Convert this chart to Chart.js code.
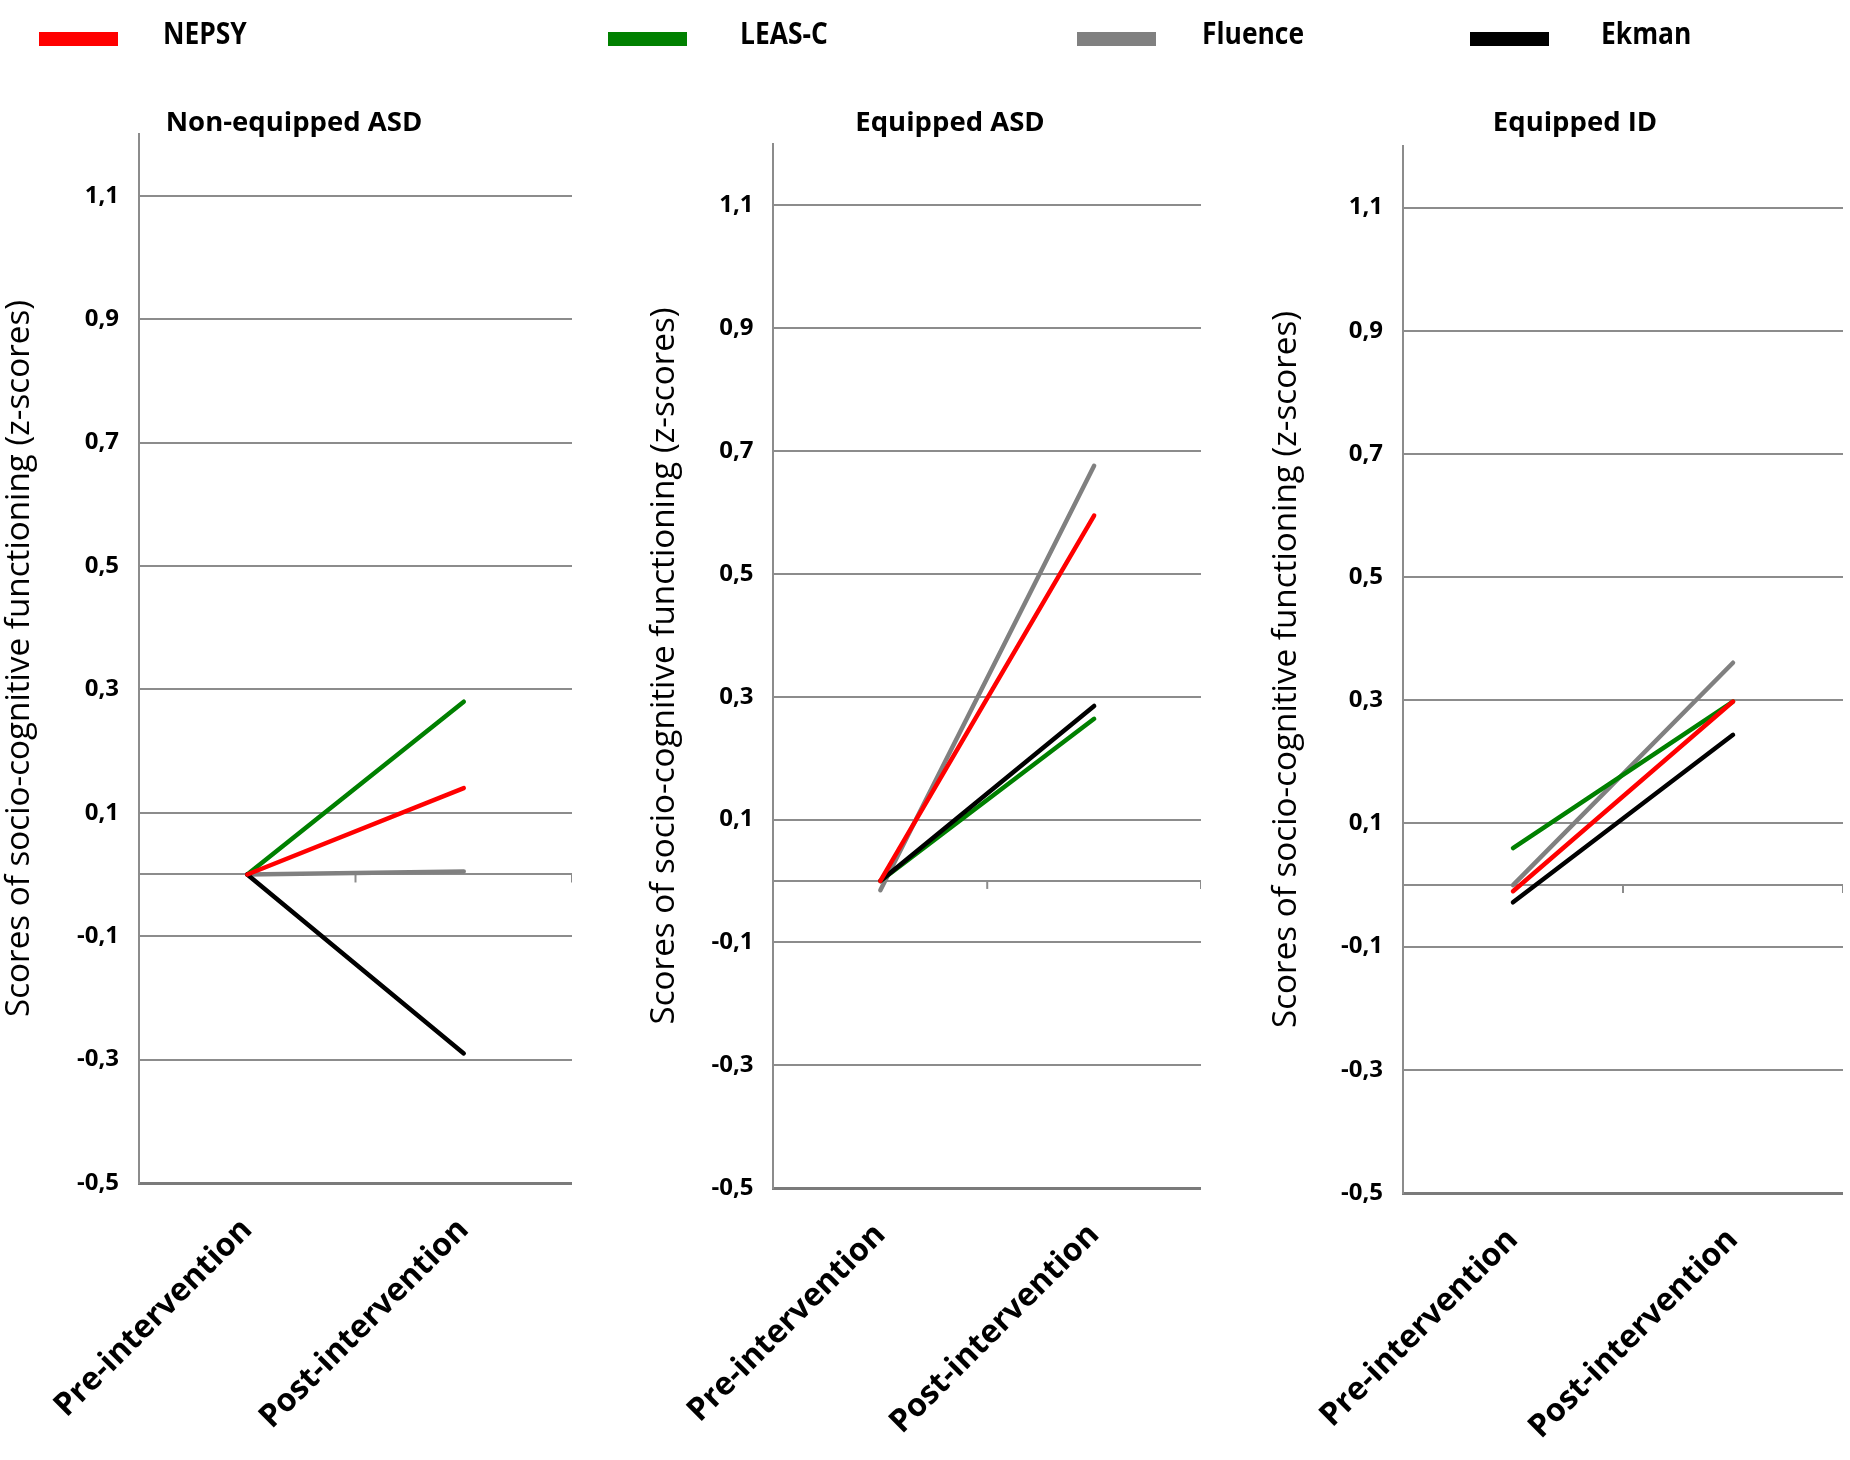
<!DOCTYPE html>
<html lang="en">
  <head>
    <meta charset="UTF-8" />
    <title>Scores of socio-cognitive functioning</title>
    <script src="https://cdn.jsdelivr.net/npm/chart.js"></script>
    <style>
      html, body { margin: 0; padding: 0; background: #fff; width: 1850px; height: 1460px; overflow: hidden; }
      body { font-family: "Open Sans", sans-serif; font-weight: bold; color: #000; }
      .panel { position: absolute; top: 0; height: 1460px; }
      .sw { position: absolute; top: 32px; width: 79px; height: 14px; z-index: 2; }
      .lb { position: absolute; top: 15px; line-height: 36px; font-size: 30px; z-index: 2;
        transform: scaleX(0.88); transform-origin: left center; }
      .ttl { position: absolute; top: 104px; width: 500px; line-height: 34px; font-size: 27.5px;
        text-align: center; z-index: 2; }
    </style>
  </head>
  <body>
    <script>
      // categories and series
      var phases = ["Pre-intervention", "Post-intervention"];
      var groups = ["Non-equipped ASD", "Equipped ASD", "Equipped ID"];
      var seriesNames = ["NEPSY", "LEAS-C", "Fluence", "Ekman"];
      var yTicks = [-0.5, -0.3, -0.1, 0, 0.1, 0.3, 0.5, 0.7, 0.9, 1.1];

      // [pre, post] for each group, same order as groups
      var nepsy = [[0, 0.14], [0, 0.595], [-0.01, 0.298]];
      var leasC = [[0, 0.28], [0, 0.264], [0.06, 0.298]];
      var fluence = [[0, 0.005], [-0.015, 0.676], [0, 0.361]];
      var ekman = [[0, -0.29], [0, 0.285], [-0.028, 0.244]];

      var seriesData = [nepsy, leasC, fluence, ekman];
      var seriesColors = ["#ff0000", "#008000", "#808080", "#000000"];
      var drawOrder = [1, 3, 4, 2];

      // where each panel sits on the page
      var panels = [
        { left: 0, right: 572, axisW: 139, titleX: 294, areaTop: 134, areaBottom: 1183 },
        { left: 641, right: 1201, axisW: 129, titleX: 950, areaTop: 144, areaBottom: 1188 },
        { left: 1267, right: 1843, axisW: 136, titleX: 1575, areaTop: 146, areaBottom: 1193 },
      ];

      // legend
      var legendSw = [39, 608, 1077, 1470];
      var legendLb = [163, 740, 1202, 1601];
      seriesNames.forEach(function (name, i) {
        var sw = document.createElement("div");
        sw.className = "sw";
        sw.style.left = legendSw[i] + "px";
        sw.style.background = seriesColors[i];
        document.body.appendChild(sw);
        var lb = document.createElement("div");
        lb.className = "lb";
        lb.style.left = legendLb[i] + "px";
        lb.textContent = name;
        document.body.appendChild(lb);
      });

      // small tick marks under the zero line, as on the category axis
      var zeroTicks = {
        id: "zeroTicks",
        beforeDatasetsDraw: function (chart) {
          var x = chart.scales.x, y = chart.scales.y, ctx = chart.ctx;
          var y0 = y.getPixelForValue(0);
          var marks = [(x.getPixelForTick(0) + x.getPixelForTick(1)) / 2, chart.chartArea.right];
          ctx.save();
          ctx.strokeStyle = "#8c8c8c";
          ctx.lineWidth = 2;
          marks.forEach(function (m) {
            ctx.beginPath();
            ctx.moveTo(m, y0);
            ctx.lineTo(m, y0 + 8);
            ctx.stroke();
          });
          ctx.restore();
        },
      };

      Chart.defaults.font.family = "'Open Sans', sans-serif";
      Chart.defaults.color = "#000";

      groups.forEach(function (group, g) {
        var p = panels[g];

        var ttl = document.createElement("div");
        ttl.className = "ttl";
        ttl.style.left = p.titleX - 250 + "px";
        ttl.textContent = group;
        document.body.appendChild(ttl);

        var div = document.createElement("div");
        div.className = "panel";
        div.style.left = p.left + "px";
        div.style.width = p.right - p.left + "px";
        var canvas = document.createElement("canvas");
        div.appendChild(canvas);
        document.body.appendChild(div);

        new Chart(canvas.getContext("2d"), {
          type: "line",
          data: {
            labels: phases,
            datasets: seriesNames.map(function (name, i) {
              return {
                label: name,
                data: seriesData[i][g],
                borderColor: seriesColors[i],
                backgroundColor: seriesColors[i],
                borderWidth: 4.5,
                borderCapStyle: "round",
                pointRadius: 0,
                fill: false,
                order: drawOrder[i],
              };
            }),
          },
          plugins: [zeroTicks],
          options: {
            responsive: true,
            maintainAspectRatio: false,
            animation: false,
            layout: { padding: { left: 0, right: 0, top: p.areaTop, bottom: 0 } },
            plugins: {
              legend: { display: false },
              tooltip: { enabled: false },
            },
            scales: {
              x: {
                offset: true,
                grid: { display: false },
                border: { display: true, color: "#7a7a7a", width: 3 },
                ticks: {
                  minRotation: 45,
                  maxRotation: 45,
                  padding: 20,
                  font: { size: 32, weight: "bold" },
                  color: "#000",
                },
                afterFit: function (scale) { scale.height = 1460 - p.areaBottom; },
              },
              y: {
                min: -0.5,
                max: 1.2,
                afterBuildTicks: function (scale) {
                  scale.ticks = yTicks.map(function (v) { return { value: v }; });
                },
                afterFit: function (scale) { scale.width = p.axisW; },
                grid: { color: "#8c8c8c", lineWidth: 2, drawTicks: false },
                border: { display: true, color: "#8c8c8c", width: 2 },
                ticks: {
                  padding: 20,
                  font: { size: 24, weight: "bold" },
                  color: "#000",
                  callback: function (value) {
                    return value === 0 ? "" : value.toFixed(1).replace(".", ",");
                  },
                },
                title: {
                  display: true,
                  text: "Scores of socio-cognitive functioning (z-scores)",
                  font: { size: 33.2 },
                  color: "#000",
                  padding: 0,
                },
              },
            },
          },
        });
      });
    </script>
  </body>
</html>
